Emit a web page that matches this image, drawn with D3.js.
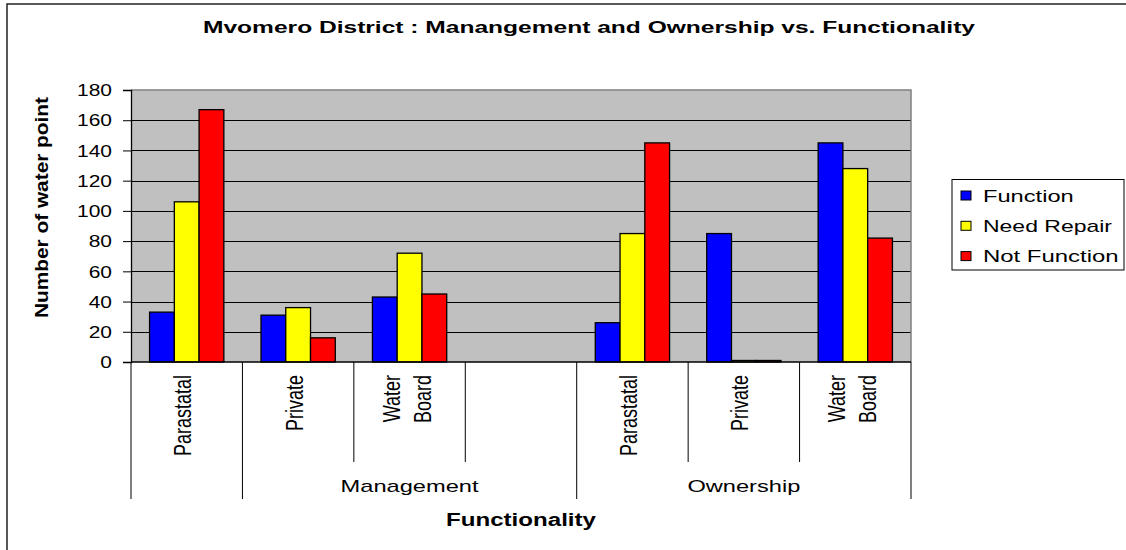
<!DOCTYPE html>
<html><head><meta charset="utf-8">
<script src="https://cdn.jsdelivr.net/npm/d3@7"></script>
<style>
html,body{margin:0;padding:0;background:#fff;}
svg{display:block;font-family:"Liberation Sans",Arial,sans-serif;}
</style></head>
<body>
<svg id="chart" width="1126" height="550"></svg>
<script>
// ---- data ----
const categories = ["Parastatal","Private","Water Board","","Parastatal","Private","Water Board"];
const groupLabels = ["","Management","Ownership"];
const groupSizes = [1,3,3];
const seriesNames = ["Function","Need Repair","Not Function"];
const seriesColors = ["#0000FF","#FFFF00","#FF0000"];
const functionValues    = [33, 31, 43, null, 26, 85, 145];
const needRepairValues  = [106, 36, 72, null, 85, 1, 128];
const notFunctionValues = [167, 16, 45, null, 145, 1, 82];
const yTickValues = [0,20,40,60,80,100,120,140,160,180];
const titleText = "Mvomero District : Manangement and Ownership vs. Functionality";
const yTitle = "Number of water point";
const xTitle = "Functionality";

const seriesValues = [functionValues, needRepairValues, notFunctionValues];

const svg = d3.select("#chart");
const SX = 1.31; // horizontal glyph stretch of the reference

// outer chart border
svg.append("rect").attr("x",7).attr("y",4).attr("width",1140).attr("height",570)
  .attr("fill","none").attr("stroke","#222").attr("stroke-width",1.5);

const plot = {left:131, right:911, top:90, bottom:362};
const x0 = d3.scaleBand().domain(d3.range(categories.length)).range([plot.left, plot.right]).paddingInner(0).paddingOuter(0);
const x1 = d3.scaleBand().domain(d3.range(seriesNames.length)).range([0, x0.bandwidth()]).paddingInner(0).paddingOuter(0.75);
const y = d3.scaleLinear().domain([0,180]).range([plot.bottom, plot.top]);

// plot background
svg.append("rect").attr("x",plot.left).attr("y",plot.top)
  .attr("width",plot.right-plot.left).attr("height",plot.bottom-plot.top).attr("fill","#C0C0C0");

// gridlines
const grid = svg.append("g").attr("transform",`translate(${plot.left},0)`)
  .call(d3.axisLeft(y).tickValues(yTickValues.filter(v=>v>0 && v<180)).tickSize(-(plot.right-plot.left)).tickFormat(""));
grid.select(".domain").remove();
grid.selectAll("line").attr("stroke","#000").attr("stroke-width",1).attr("shape-rendering","crispEdges");

// plot border top/right (grey)
svg.append("path").attr("d",`M${plot.left},${y(180)}H${plot.right}V${plot.bottom}`)
  .attr("fill","none").attr("stroke","#808080").attr("stroke-width",1.5);

// bars
const barsG = svg.append("g");
categories.forEach((c,i)=>{
  seriesValues.forEach((vals,s)=>{
    const v = vals[i];
    if(v===null || v===undefined) return;
    barsG.append("rect")
      .attr("x", x0(i)+x1(s))
      .attr("y", y(v))
      .attr("width", x1.bandwidth())
      .attr("height", y(0)-y(v))
      .attr("fill", seriesColors[s])
      .attr("stroke","#000").attr("stroke-width",1.3);
  });
});

// y axis
const yAxis = svg.append("g").attr("transform",`translate(${plot.left},0)`)
  .call(d3.axisLeft(y).tickValues(yTickValues).tickSize(8).tickPadding(0));
yAxis.select(".domain").attr("stroke","#000").attr("stroke-width",1.3);
yAxis.selectAll(".tick line").attr("stroke","#000").attr("stroke-width",1);
yAxis.selectAll(".tick text")
  .attr("x",0).attr("dy","0.36em")
  .attr("transform",`translate(-19,0) scale(${SX},1)`)
  .attr("font-size",16).attr("font-family","Liberation Sans, Arial, sans-serif").attr("fill","#000");

// x axis line
svg.append("line").attr("x1",plot.left).attr("x2",plot.right).attr("y1",y(0)).attr("y2",y(0))
  .attr("stroke","#000").attr("stroke-width",1.3);

// category dividers
const boundary = k => k < categories.length ? x0(k) : x0(categories.length-1)+x0.bandwidth();
const groupEdges = [0]; groupSizes.forEach(s=>groupEdges.push(groupEdges[groupEdges.length-1]+s));
d3.range(categories.length+1).forEach(k=>{
  const isGroup = groupEdges.includes(k);
  svg.append("line").attr("x1",boundary(k)).attr("x2",boundary(k))
    .attr("y1",y(0)).attr("y2", isGroup ? 499 : 462)
    .attr("stroke","#000").attr("stroke-width",1);
});

// category labels (rotated)
categories.forEach((c,i)=>{
  if(!c) return;
  const cx = x0(i)+x0.bandwidth()/2;
  const words = c.split(" ");
  const offsets = words.length===1 ? [4.6] : [-10, 21];
  words.forEach((w,j)=>{
    svg.append("text")
      .attr("transform",`translate(${cx+offsets[j]},375) scale(${SX},1) rotate(-90)`)
      .attr("text-anchor","end").attr("font-size",18).attr("fill","#000")
      .text(w);
  });
});

// group labels
groupLabels.forEach((g,j)=>{
  if(!g) return;
  const a = boundary(groupEdges[j]), b = boundary(groupEdges[j+1]);
  svg.append("text")
    .attr("transform",`translate(${(a+b)/2},492) scale(1.39,1)`)
    .attr("text-anchor","middle").attr("font-size",17).attr("fill","#000").text(g);
});

// title
svg.append("text").attr("x",203).attr("y",33).attr("font-size",16).attr("font-weight","bold")
  .attr("textLength",772).attr("lengthAdjust","spacingAndGlyphs").text(titleText);

// axis titles
svg.append("text").attr("x",(plot.left+plot.right)/2 - 75).attr("y",526)
  .attr("font-size",18).attr("font-weight","bold")
  .attr("textLength",150).attr("lengthAdjust","spacingAndGlyphs").text(xTitle);

svg.append("text")
  .attr("transform",`translate(48,207.5) scale(${SX},1) rotate(-90)`)
  .attr("x",-110.5).attr("font-size",14).attr("font-weight","bold")
  .attr("textLength",221).attr("lengthAdjust","spacingAndGlyphs").text(yTitle);

// legend
const legend = svg.append("g");
legend.append("rect").attr("x",952).attr("y",179.5).attr("width",172).attr("height",90.5)
  .attr("fill","#fff").attr("stroke","#000").attr("stroke-width",1);
const legendWidths = [90.7, 129, 135.6];
seriesNames.forEach((n,i)=>{
  const cy = 195.5 + i*30.3;
  legend.append("rect").attr("x",961).attr("y",cy-4.5).attr("width",10).attr("height",9)
    .attr("fill",seriesColors[i]).attr("stroke","#000").attr("stroke-width",1);
  legend.append("text").attr("x",983).attr("y",cy+6).attr("font-size",17)
    .attr("textLength",legendWidths[i]).attr("lengthAdjust","spacingAndGlyphs").text(n);
});
</script>
</body></html>
